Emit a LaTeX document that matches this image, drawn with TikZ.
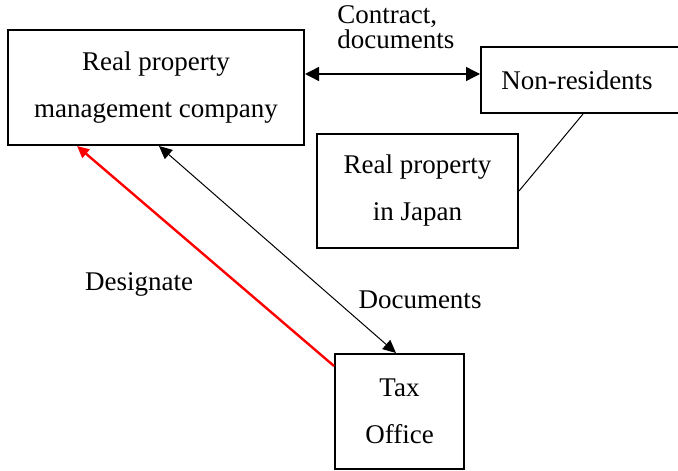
\documentclass[tikz,border=0pt]{standalone}
\usepackage{fontspec}
\setmainfont{Liberation Serif}
\usepackage{tikz}
\usetikzlibrary{arrows.meta, calc, positioning}
\usepackage{xcolor}
\tikzset{
  box/.style     ={draw, rectangle, inner sep=0pt, line width=1pt, align=center,
                   font=\fontsize{13.5}{23.5}\selectfont},
  lbl/.style     ={font=\fontsize{13.5}{12.5}\selectfont, inner sep=0pt},
  both/.style    ={{Triangle[length=7pt,width=7pt]}-{Triangle[length=7pt,width=7pt]}, line width=0.7pt},  % contract both ways
  docs/.style    ={{Triangle[length=6.5pt,width=6pt]}-{Triangle[length=6.5pt,width=6pt]}, line width=0.5pt}, % documents
  desig/.style   ={-{Triangle[length=6pt,width=5.5pt]}, line width=1.2pt, red},   % designate
  link/.style    ={line width=0.5pt},
}

\begin{document}
\begin{tikzpicture}[x=0.5pt, y=-0.5pt]
  \useasboundingbox (0,0) rectangle (678,470);

  % boxes
  \node[box, minimum width=148pt, minimum height=57.5pt] (mgmt) at (156,87.5)
    {Real property\\management company};
  \node[box, minimum width=102pt, minimum height=33pt] (nonres) at (583,80)
    {\hspace*{-6pt}Non-residents};
  \node[box, minimum width=100.5pt, minimum height=57pt] (rpj) at (417.5,191)
    {Real property\\in Japan};
  \node[box, minimum width=64.5pt, minimum height=57.5pt] (tax) at (399.5,411.5)
    {Tax\\Office};

  % labels
  \node[lbl, anchor=west, align=left] (contract) at (337,27) {Contract,\\documents};
  \node[lbl] (designate) at (139,284) {Designate};
  \node[lbl] (documents) at (420,300) {Documents};

  % connectors
  \coordinate (lvl) at (0,74);
  \draw[both] (mgmt.east |- lvl) -- (nonres.west |- lvl);
  \draw[link] (nonres.south) -- (rpj.east);
  \draw[docs] ($(mgmt.south west)+(152,0)$) -- ($(tax.north west)+(62,0)$);
  \draw[desig] ($(tax.north west)+(0,13)$) -- ($(mgmt.south west)+(70,0)$);
\end{tikzpicture}
\end{document}
